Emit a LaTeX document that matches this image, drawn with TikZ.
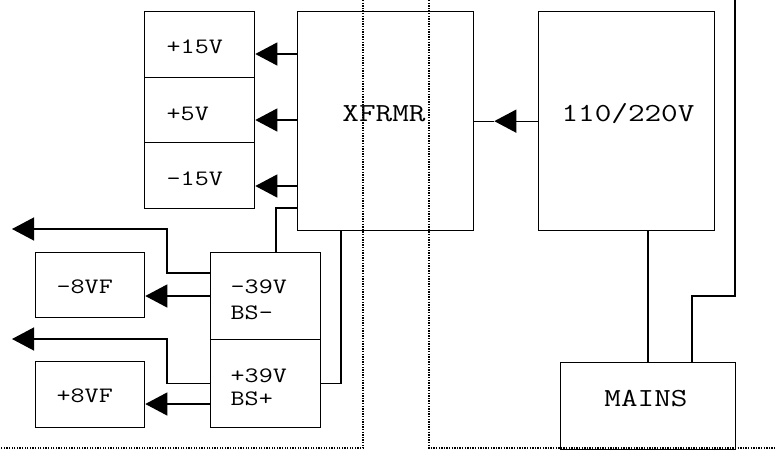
\documentclass[tikz,border=0pt]{standalone}
\usepackage{fontspec}
\setmonofont{Latin Modern Mono}[FakeStretch=1.24]
\usetikzlibrary{arrows.meta}
\begin{document}
\begin{tikzpicture}[x=1pt,y=-1pt, line width=1.3pt,
  box/.style={draw, rectangle, inner sep=0pt, anchor=north west},
  arr/.style={-{Triangle[length=22pt,width=23pt]}},
  sm/.style={font=\ttfamily\fontsize{22}{24}\selectfont, inner sep=0pt, anchor=base west},
  bg/.style={font=\ttfamily\fontsize{26}{28}\selectfont, inner sep=0pt, anchor=base},
  dots/.style={line width=1.3pt, dash pattern=on 1.3pt off 1.3pt}]
\useasboundingbox (0,0) rectangle (776,453);
% dotted boundaries
\draw[dots] (363,0) -- (363,448) -- (0,448);
\draw[dots] (429,0) -- (429,448) -- (776,448);
% boxes
\node[box, minimum width=110pt, minimum height=66pt] (p15) at (144,11) {};
\node[box, minimum width=110pt, minimum height=65pt] (p5) at (144,77) {};
\node[box, minimum width=110pt, minimum height=66pt] (m15) at (144,142) {};
\node[box, minimum width=176pt, minimum height=219pt] (xf) at (297,11) {};
\node[box, minimum width=176pt, minimum height=219pt] (m110) at (538,11) {};
\node[box, minimum width=175pt, minimum height=87pt] (mains) at (560,362) {};
\node[box, minimum width=109pt, minimum height=65pt] (m8) at (35,252) {};
\node[box, minimum width=109pt, minimum height=66pt] (p8) at (35,361) {};
\node[box, minimum width=110pt, minimum height=87pt] (m39) at (210,252) {};
\node[box, minimum width=110pt, minimum height=88pt] (p39) at (210,339) {};
% texts
\node[sm] (tp15) at (166,53) {+15V};
\node[sm] (tp5) at (166,120) {+5V};
\node[sm] (tm15) at (166,185) {-15V};
\node[bg] (txf) at (384,121) {XFRMR};
\node[bg] (t110) at (628,121) {110/220V};
\node[bg] (tmains) at (646,406) {MAINS};
\node[sm] (tm8) at (56,293) {-8VF};
\node[sm] (tp8) at (56,402) {+8VF};
\node[sm] (tm39a) at (230,293) {-39V};
\node[sm] (tm39b) at (230,319) {BS-};
\node[sm] (tp39a) at (230,382) {+39V};
\node[sm] (tp39b) at (230,405) {BS+};
% connectors
\draw[arr] (xf.west |- 0,54) -- (p15.east |- 0,54);
\draw[arr] (xf.west |- 0,120) -- (p5.east |- 0,120);
\draw[arr] (xf.west |- 0,186) -- (m15.east |- 0,186);
\draw (xf.west |- 0,208) -| ([xshift=66pt]m39.north west);
\draw ([xshift=44pt]xf.south west) |- (p39.east);
\draw[arr] (m39.west |- 0,296) -- (m8.east |- 0,296);
\draw[arr] (p39.west |- 0,404) -- (p8.east |- 0,404);
\coordinate (o1) at (12,229);
\coordinate (o2) at (12,339);
\draw[arr] (m39.west |- 0,273) -- ++(-43,0) |- (o1);
\draw[arr] (p39.west) -- ++(-43,0) |- (o2);
\coordinate (tip) at ([xshift=20pt]xf.east);
\draw[arr] (m110.west) -- (tip);
\draw (tip) -- (xf.east);
\draw ([xshift=110pt]m110.south west) -- ([xshift=88pt]mains.north west);
\coordinate (r0) at (735,0);
\draw (r0) -- ++(0,296) -| ([xshift=132pt]mains.north west);
\end{tikzpicture}
\end{document}
